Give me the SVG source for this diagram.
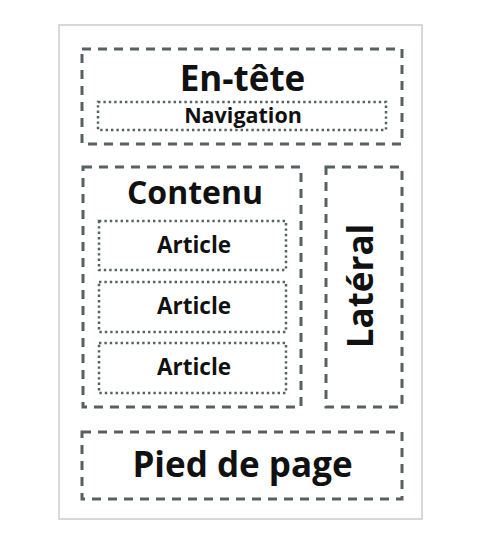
<svg xmlns="http://www.w3.org/2000/svg" width="480" height="537" viewBox="0 0 480 537">
  <style>
    .page { fill: #ffffff; stroke: #cccccc; stroke-width: 1.5; }
    .region { fill: none; stroke: #576062; stroke-width: 3; stroke-dasharray: 9 7; }
    .item { fill: none; stroke: #576062; stroke-width: 2.5; stroke-dasharray: 2.4 3; }
    text { font-family: "Open Sans", "Noto Sans", "DejaVu Sans", sans-serif; font-weight: 700; fill: #111111; text-anchor: middle; }
    .big { font-size: 35px; }
    .mid { font-size: 22.5px; }
    .small { font-size: 21.5px; }
  </style>
  <rect width="480" height="537" fill="#ffffff"/>
  <!-- page frame -->
  <rect class="page" x="59" y="25" width="363" height="494"/>

  <g id="header">
    <rect class="region" x="82" y="49" width="320" height="95"/>
    <text class="big" x="242.5" y="91">En-tête</text>
  </g>
  <g id="navigation">
    <rect class="item" x="98" y="102" width="288" height="28"/>
    <text class="small" x="243" y="122.5">Navigation</text>
  </g>

  <g id="content">
    <rect class="region" x="83" y="167" width="218" height="240"/>
    <text class="big" x="195" y="204" style="font-size:32px">Contenu</text>
  </g>
  <g id="article-1">
    <rect class="item" x="99" y="221" width="187" height="49"/>
    <text class="mid" x="194" y="253">Article</text>
  </g>
  <g id="article-2">
    <rect class="item" x="99" y="282" width="187" height="50"/>
    <text class="mid" x="194" y="314">Article</text>
  </g>
  <g id="article-3">
    <rect class="item" x="99" y="343" width="187" height="50"/>
    <text class="mid" x="194" y="375">Article</text>
  </g>

  <g id="sidebar">
    <rect class="region" x="326" y="167" width="76" height="240"/>
    <text class="big" transform="translate(373 286) rotate(-90)">Latéral</text>
  </g>

  <g id="footer">
    <rect class="region" x="82" y="432" width="320" height="67"/>
    <text class="big" x="242.5" y="477">Pied de page</text>
  </g>

  <g id="connectors"/>
</svg>
